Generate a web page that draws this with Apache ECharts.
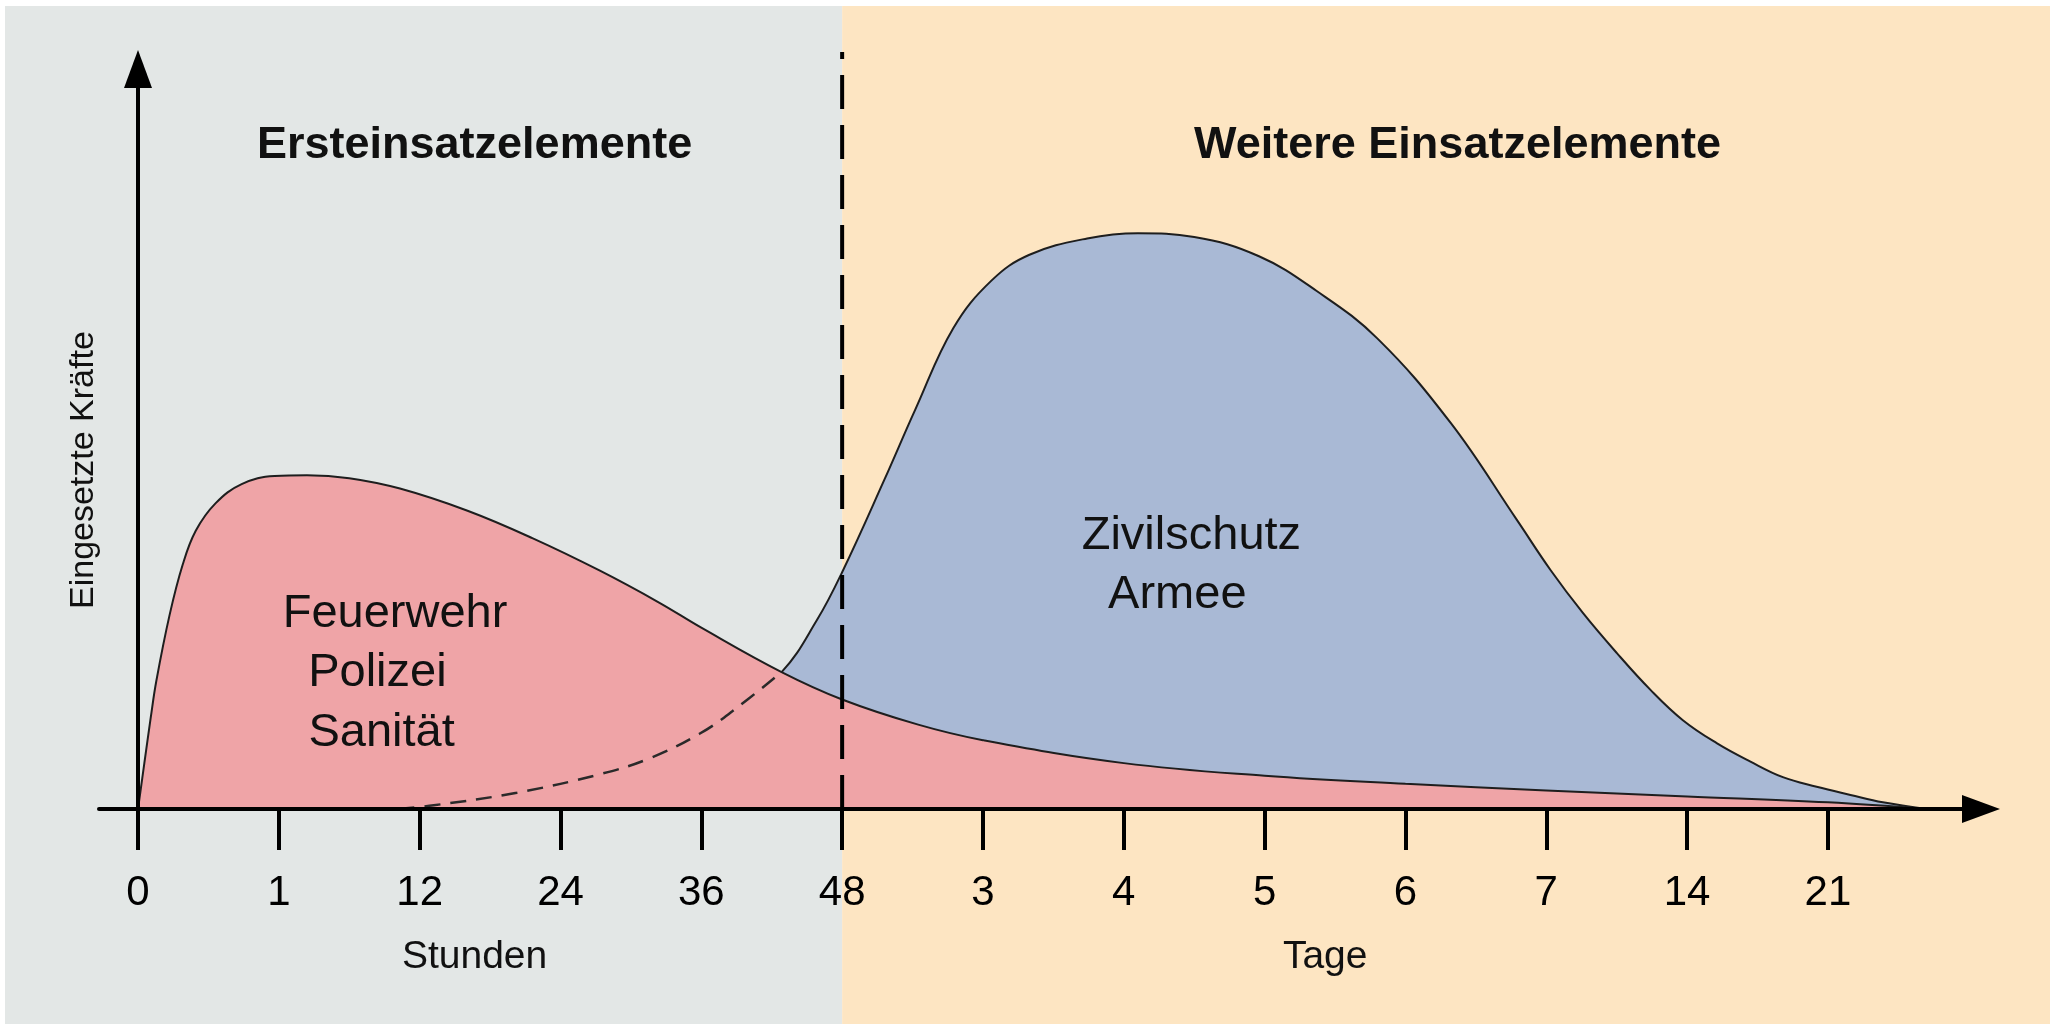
<!DOCTYPE html>
<html>
<head>
<meta charset="utf-8">
<title>Eingesetzte Kräfte</title>
<script src="https://cdn.jsdelivr.net/npm/echarts@6/dist/echarts.min.js"></script>
<style>
  html, body { margin: 0; padding: 0; background: #ffffff; }
  #chart { width: 2056px; height: 1024px; }
</style>
</head>
<body>
<div id="chart"></div>
<script>
// x axis: positions 0..12, labels (Stunden, then Tage)
const tickPositions = [0, 1, 2, 3, 4, 5, 6, 7, 8, 9, 10, 11, 12];
const tickLabels = ['0', '1', '12', '24', '36', '48', '3', '4', '5', '6', '7', '14', '21'];

// Ersteinsatzelemente (Feuerwehr, Polizei, Sanität)
const ersteX = [0, 0.045, 0.09, 0.13, 0.224, 0.317, 0.41, 0.55, 0.736, 0.97, 1.2, 1.5, 1.86, 2.34, 2.8, 3.28, 3.7, 4.0, 4.57, 5.0, 5.54, 6.0, 7, 8, 9, 10, 11, 12, 12.7];
const ersteY = [0, 6.2, 12.3, 17.3, 26.2, 33.0, 37.6, 41.3, 43.9, 45.0, 45.1, 44.7, 43.3, 40.3, 36.6, 32.2, 27.9, 24.5, 18.5, 14.8, 11.4, 9.3, 6.2, 4.5, 3.4, 2.5, 1.7, 0.9, 0];

// Weitere Einsatzelemente (Zivilschutz, Armee)
const weitereX = [1.85, 2.1, 2.69, 3.28, 3.64, 3.99, 4.22, 4.57, 4.82, 5.0, 5.3, 5.52, 5.79, 6.06, 6.33, 6.74, 7.1, 7.5, 7.96, 8.37, 8.8, 9.32, 9.79, 10.03, 10.26, 10.5, 10.74, 10.97, 11.21, 11.45, 11.68, 11.92, 12.16, 12.39, 12.7];
const weitereY = [0, 0.5, 2.2, 4.7, 6.9, 10.2, 13.2, 18.5, 25.5, 32.0, 44.5, 54.0, 65.0, 71.4, 74.9, 77.1, 77.8, 77.3, 74.7, 70.0, 63.6, 52.2, 39.1, 32.3, 26.5, 21.1, 16.1, 12.0, 8.9, 6.4, 4.3, 3.0, 1.9, 0.9, 0];

const crossingX = 4.57;  // dashed part of the blue curve ends here
const splitX = 5;        // 48 Stunden

const FONT = "'Liberation Sans', Arial, Helvetica, sans-serif";
const SMOOTH = 0.4;

function zip(xs, ys) {
  return xs.map((x, i) => [x, ys[i]]);
}

const ersteData = zip(ersteX, ersteY);
const weitereData = zip(weitereX, weitereY);
const weitereDashed = weitereData.filter(p => p[0] <= crossingX);

const chart = echarts.init(document.getElementById('chart'));

const option = {
  backgroundColor: '#ffffff',
  animation: false,
  grid: { left: 99, right: 75, top: 69, bottom: 215 },
  xAxis: {
    type: 'value',
    min: -0.277,
    max: 13.087,
    z: 10,
    splitLine: { show: false },
    axisLine: {
      show: true,
      onZero: true,
      symbol: ['none', 'triangle'],
      symbolSize: [28, 38],
      lineStyle: { color: '#000', width: 4 }
    },
    axisTick: {
      show: true,
      inside: false,
      length: 41,
      customValues: tickPositions,
      lineStyle: { color: '#000', width: 4 }
    },
    axisLabel: {
      customValues: tickPositions,
      margin: 63,
      color: '#000',
      fontFamily: FONT,
      fontSize: 42,
      formatter: function (v) {
        return tickLabels[Math.round(v)];
      }
    }
  },
  yAxis: {
    type: 'value',
    min: 0,
    max: 100,
    z: 10,
    splitLine: { show: false },
    axisTick: { show: false },
    axisLabel: { show: false },
    axisLine: {
      show: true,
      onZero: true,
      symbol: ['none', 'triangle'],
      symbolSize: [28, 38],
      lineStyle: { color: '#000', width: 4 }
    }
  },
  series: [
    {
      name: 'Weitere Einsatzelemente',
      type: 'line',
      data: weitereData,
      smooth: SMOOTH,
      showSymbol: false,
      symbol: 'none',
      z: 2,
      lineStyle: { color: '#1e1e1e', width: 2 },
      areaStyle: { color: '#a9b9d5', opacity: 1 }
    },
    {
      name: 'Ersteinsatzelemente',
      type: 'line',
      data: ersteData,
      smooth: SMOOTH,
      showSymbol: false,
      symbol: 'none',
      z: 3,
      lineStyle: { color: '#1e1e1e', width: 2 },
      areaStyle: { color: '#efa4a7', opacity: 1 }
    },
    {
      name: 'Weitere (Anlauf)',
      type: 'line',
      data: weitereDashed,
      smooth: SMOOTH,
      showSymbol: false,
      symbol: 'none',
      z: 4,
      lineStyle: { color: '#2a2a2a', width: 2.5, type: [16, 10] }
    },
    {
      name: '48h',
      type: 'line',
      data: [[splitX, 0], [splitX, 102.3]],
      showSymbol: false,
      symbol: 'none',
      clip: false,
      z: 5,
      lineStyle: { color: '#000', width: 4, type: [34, 16] }
    }
  ]
};

chart.setOption(option);

// decorations: backgrounds and texts, placed in data units
function px(x, y) {
  return chart.convertToPixel({ gridIndex: 0 }, [x, y]);
}

const splitPx = px(splitX, 0)[0];

const texts = [
  { t: 'Ersteinsatzelemente', x: 2.39, y: 89.6, size: 45, bold: true },
  { t: 'Weitere Einsatzelemente', x: 9.37, y: 89.6, size: 45, bold: true },
  { t: 'Feuerwehr', x: 1.825, y: 26.3, size: 47 },
  { t: 'Polizei', x: 1.70, y: 18.4, size: 47 },
  { t: 'Sanität', x: 1.73, y: 10.3, size: 47 },
  { t: 'Zivilschutz', x: 7.48, y: 36.9, size: 47 },
  { t: 'Armee', x: 7.38, y: 28.9, size: 47 },
  { t: 'Stunden', x: 2.39, y: -20.0, size: 39 },
  { t: 'Tage', x: 8.43, y: -20.0, size: 39 }
];

const graphics = [
  {
    type: 'rect', z: -100, silent: true,
    shape: { x: 5, y: 6, width: splitPx - 5, height: 1024 - 6 },
    style: { fill: '#e3e7e6' }
  },
  {
    type: 'rect', z: -100, silent: true,
    shape: { x: splitPx, y: 6, width: 2050 - splitPx, height: 1024 - 6 },
    style: { fill: '#fde5c2' }
  }
];

texts.forEach(function (d) {
  const p = px(d.x, d.y);
  graphics.push({
    type: 'text', z: 100, silent: true,
    x: p[0], y: p[1],
    style: {
      text: d.t,
      fill: '#111',
      font: (d.bold ? 'bold ' : '') + d.size + 'px ' + FONT,
      align: 'center',
      verticalAlign: 'middle'
    }
  });
});

const yTitle = px(-0.383, 45.8);
graphics.push({
  type: 'text', z: 100, silent: true,
  x: yTitle[0], y: yTitle[1],
  rotation: Math.PI / 2,
  style: {
    text: 'Eingesetzte Kräfte',
    fill: '#111',
    font: '34px ' + FONT,
    align: 'center',
    verticalAlign: 'middle'
  }
});

chart.setOption({ graphic: graphics });
</script>
</body>
</html>
